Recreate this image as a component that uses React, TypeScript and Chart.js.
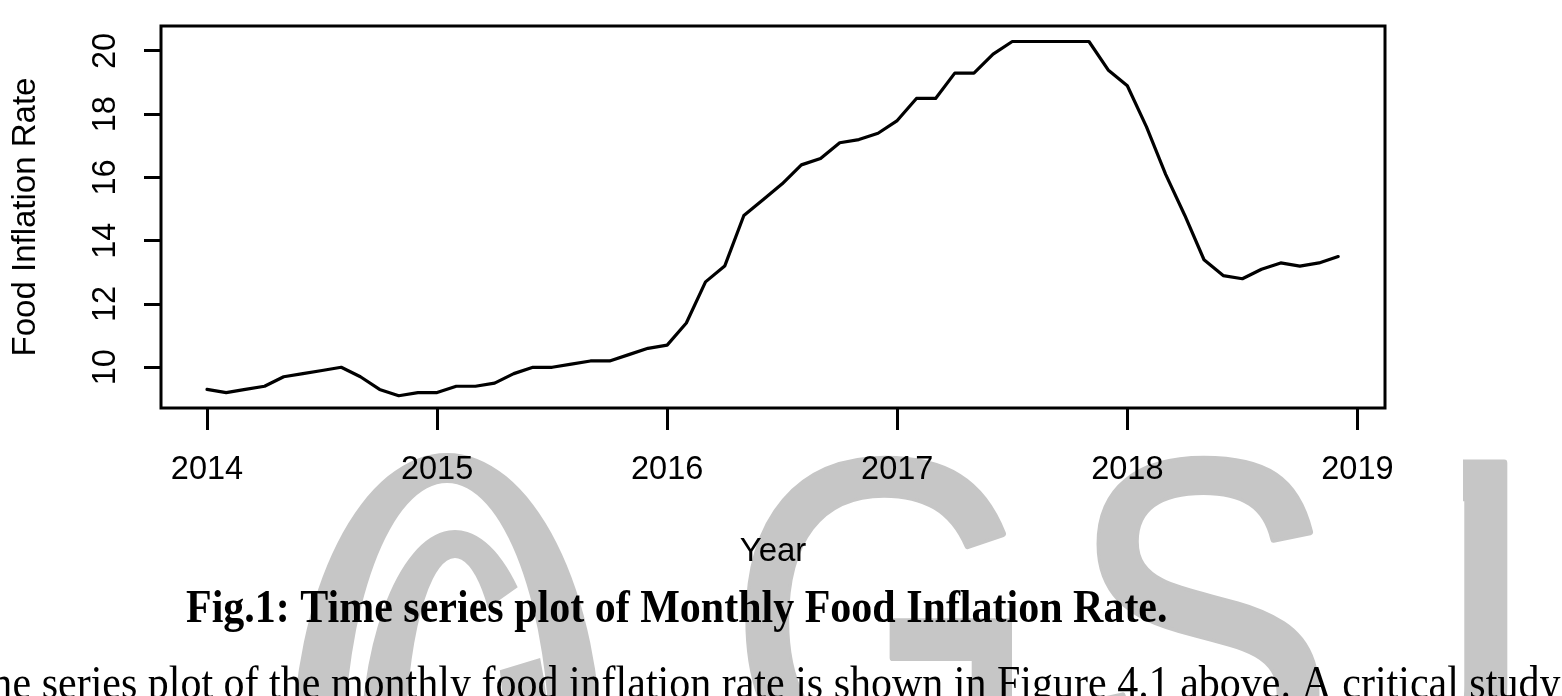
import React, { useEffect, useRef } from 'react';
import { Chart, registerables } from 'chart.js';

Chart.register(...registerables);

// ---------- data ----------
const START_YEAR = 2014;
const rate2014 = [9.3, 9.2, 9.3, 9.4, 9.7, 9.8, 9.9, 10.0, 9.7, 9.3, 9.1, 9.2];
const rate2015 = [9.2, 9.4, 9.4, 9.5, 9.8, 10.0, 10.0, 10.1, 10.2, 10.2, 10.4, 10.6];
const rate2016 = [10.7, 11.4, 12.7, 13.2, 14.8, 15.3, 15.8, 16.4, 16.6, 17.1, 17.2, 17.4];
const rate2017 = [17.8, 18.5, 18.5, 19.3, 19.3, 19.9, 20.3, 20.3, 20.3, 20.3, 20.3, 19.4];
const rate2018 = [18.9, 17.6, 16.1, 14.8, 13.4, 12.9, 12.8, 13.1, 13.3, 13.2, 13.3, 13.5];

const YEAR_TICKS = [2014, 2015, 2016, 2017, 2018, 2019];
const RATE_TICKS = [10, 12, 14, 16, 18, 20];
const X_MIN = 2013.8;
const X_MAX = 2019.12;
const Y_MIN = 8.713;
const Y_MAX = 20.79;

const X_TITLE = 'Year';
const Y_TITLE = 'Food Inflation Rate';
const CAPTION = 'Fig.1: Time series plot of Monthly Food Inflation Rate.';
const PARAGRAPH =
  'Time series plot of the monthly food inflation rate is shown in Figure 4.1 above. A critical study';
const WATERMARK_LETTERS = ['G', 'S', 'J'];

const monthlyRates = [...rate2014, ...rate2015, ...rate2016, ...rate2017, ...rate2018];
const points = monthlyRates.map((v, i) => ({ x: START_YEAR + i / 12, y: v }));

// ---------- styling ----------
const SANS = '"Liberation Sans", Arial, Helvetica, sans-serif';
const SERIF = '"Liberation Serif", "Times New Roman", serif';
const WM_COLOR = '#c6c6c6';

function drawWatermark(ctx: CanvasRenderingContext2D) {
  ctx.save();
  ctx.fillStyle = WM_COLOR;
  // copyright ring
  ctx.beginPath();
  ctx.ellipse(447, 760, 155, 307, 0, 0, Math.PI * 2);
  ctx.moveTo(447 + 103, 760);
  ctx.ellipse(447, 760, 103, 277, 0, 0, Math.PI * 2);
  ctx.fill('evenodd');
  // inner C
  ctx.beginPath();
  ctx.ellipse(455, 760, 95, 230, 0, -0.85, -0.46, true);
  ctx.ellipse(455, 760, 50, 202, 0, -0.46, -0.85, false);
  ctx.closePath();
  ctx.fill();

  // letters G S J
  ctx.font = '400px ' + SANS;
  ctx.textAlign = 'left';
  ctx.textBaseline = 'alphabetic';
  const mG = ctx.measureText('G');
  const gW = mG.actualBoundingBoxLeft + mG.actualBoundingBoxRight;
  const sx = 262 / gW;
  const sy = sx * 1.15;
  const place = (ch: string, left: number | null, right: number | null, top: number, clipLeft?: number) => {
    const m = ctx.measureText(ch);
    const w = (m.actualBoundingBoxLeft + m.actualBoundingBoxRight) * sx;
    const lx = left !== null ? left : (right as number) - w;
    ctx.save();
    if (clipLeft !== undefined) {
      ctx.beginPath();
      ctx.rect(clipLeft, 0, 2000, 2000);
      ctx.clip();
    }
    ctx.translate(lx + 4, top + 4);
    ctx.scale(sx, sy);
    ctx.lineWidth = 6;
    ctx.lineJoin = 'round';
    ctx.strokeStyle = WM_COLOR;
    ctx.strokeText(ch, m.actualBoundingBoxLeft, m.actualBoundingBoxAscent);
    ctx.fillText(ch, m.actualBoundingBoxLeft, m.actualBoundingBoxAscent);
    ctx.restore();
  };
  place(WATERMARK_LETTERS[0], 743, null, 453);
  place(WATERMARK_LETTERS[1], 1077, null, 453);
  place(WATERMARK_LETTERS[2], null, 1505, 452, 1463);
  ctx.restore();
}

const paperPlugin = {
  id: 'paper',
  beforeDraw(chart: any) {
    const ctx: CanvasRenderingContext2D = chart.ctx;
    ctx.save();
    ctx.fillStyle = '#ffffff';
    ctx.fillRect(0, 0, chart.width, chart.height);
    ctx.restore();
    drawWatermark(ctx);
  },
  afterDraw(chart: any) {
    const ctx: CanvasRenderingContext2D = chart.ctx;
    const a = chart.chartArea;
    ctx.save();
    ctx.strokeStyle = '#000';
    ctx.lineWidth = 3;
    ctx.strokeRect(a.left, a.top, a.right - a.left, a.bottom - a.top);

    ctx.fillStyle = '#000';
    ctx.textAlign = 'left';
    ctx.textBaseline = 'alphabetic';

    ctx.font = 'bold 42px ' + SERIF;
    ctx.save();
    ctx.translate(186, 622);
    ctx.scale(1, 1.08);
    ctx.fillText(CAPTION, 0, 0);
    ctx.restore();

    ctx.font = '42px ' + SERIF;
    ctx.save();
    ctx.translate(-56, 698);
    ctx.scale(1, 1.08);
    ctx.fillText(PARAGRAPH, 0, 0);
    ctx.restore();
    ctx.restore();
  },
};

export default function App() {
  const ref = useRef<HTMLCanvasElement>(null);

  useEffect(() => {
    if (!ref.current) return;
    const chart = new Chart(ref.current, {
      type: 'line',
      data: {
        datasets: [
          {
            data: points,
            borderColor: '#000',
            borderWidth: 3.2,
            pointRadius: 0,
            tension: 0,
            fill: false,
            borderJoinStyle: 'round',
            borderCapStyle: 'round',
          },
        ],
      },
      options: {
        animation: false,
        responsive: false,
        maintainAspectRatio: false,
        layout: { autoPadding: false, padding: { left: 0, right: 177, top: 26, bottom: 0 } },
        plugins: { legend: { display: false }, tooltip: { enabled: false }, title: { display: false } },
        scales: {
          x: {
            type: 'linear',
            min: X_MIN,
            max: X_MAX,
            afterBuildTicks: (s: any) => {
              s.ticks = YEAR_TICKS.map((v) => ({ value: v }));
            },
            afterFit: (s: any) => {
              s.height = 288;
              s.paddingLeft = 0;
              s.paddingRight = 0;
              s.paddingTop = 0;
              s.paddingBottom = 0;
            },
            ticks: {
              autoSkip: false,
              maxRotation: 0,
              minRotation: 0,
              padding: 21,
              color: '#000',
              font: { family: SANS, size: 32.5 },
              callback: (v: any) => String(v),
            },
            grid: { display: true, drawOnChartArea: false, drawTicks: true, tickLength: 22, color: '#000', lineWidth: 3 },
            border: { display: false },
            title: {
              display: true,
              text: X_TITLE,
              color: '#000',
              font: { family: SANS, size: 33 },
              padding: { top: 0, bottom: 124 },
            },
          },
          y: {
            type: 'linear',
            min: Y_MIN,
            max: Y_MAX,
            afterBuildTicks: (s: any) => {
              s.ticks = RATE_TICKS.map((v) => ({ value: v }));
            },
            afterFit: (s: any) => {
              s.width = 161;
              s.paddingLeft = 0;
              s.paddingRight = 0;
              s.paddingTop = 0;
              s.paddingBottom = 0;
            },
            ticks: {
              autoSkip: false,
              minRotation: 90,
              maxRotation: 90,
              crossAlign: 'center',
              padding: 20,
              color: '#000',
              font: { family: SANS, size: 32.5 },
              callback: (v: any) => String(v),
            },
            grid: { display: true, drawOnChartArea: false, drawTicks: true, tickLength: 17, color: '#000', lineWidth: 3 },
            border: { display: false },
            title: {
              display: true,
              text: Y_TITLE,
              color: '#000',
              font: { family: SANS, size: 33 },
              padding: { top: 6, bottom: 0 },
            },
          },
        },
      } as any,
      plugins: [paperPlugin],
    });
    return () => chart.destroy();
  }, []);

  return (
    <div style={{ position: 'fixed', left: 0, top: 0, width: 1562, height: 696, background: '#fff' }}>
      <canvas ref={ref} width={1562} height={696} style={{ display: 'block', width: 1562, height: 696 }} />
    </div>
  );
}
